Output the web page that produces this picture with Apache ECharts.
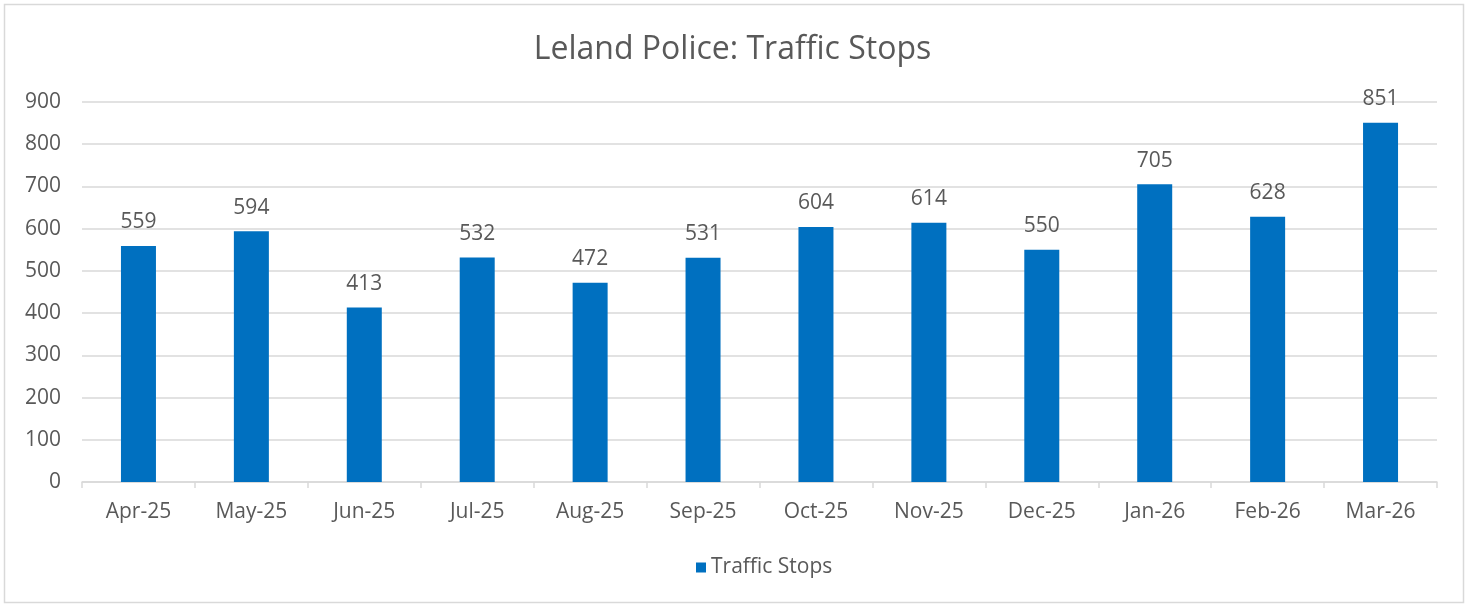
<!DOCTYPE html>
<html>
<head>
<meta charset="utf-8">
<script src="https://cdn.jsdelivr.net/npm/echarts@6/dist/echarts.min.js"></script>
<style>
  html, body { margin: 0; padding: 0; background: #fff; }
  #chart { width: 1465px; height: 605px; }
</style>
</head>
<body>
<div id="chart"></div>
<script>
var months = ["Apr-25", "May-25", "Jun-25", "Jul-25", "Aug-25", "Sep-25",
  "Oct-25", "Nov-25", "Dec-25", "Jan-26", "Feb-26", "Mar-26"];
var stops = [559, 594, 413, 532, 472, 531, 604, 614, 550, 705, 628, 851];
var yTicks = [0, 900, 100];

var textColor = "#595959";
var font = "'Open Sans', 'Liberation Sans', sans-serif";

var chart = echarts.init(document.getElementById("chart"));

var option = {
  backgroundColor: "#fff",
  textStyle: { fontFamily: font },
  title: {
    text: "Leland Police: Traffic Stops",
    left: "center",
    top: 29,
    textStyle: { fontSize: 32, fontWeight: "normal", color: textColor, fontFamily: font }
  },
  graphic: [{
    type: "rect",
    shape: { x: 4.5, y: 4.5, width: 1459, height: 598 },
    style: { fill: "none", stroke: "#d9d9d9", lineWidth: 1.5 },
    silent: true
  }],
  legend: {
    data: ["Traffic Stops"],
    left: 691,
    top: 552,
    itemWidth: 10,
    itemHeight: 10,
    icon: "rect",
    itemGap: 10,
    textStyle: { fontSize: 21, color: textColor, fontFamily: font }
  },
  grid: { left: 82, right: 28, top: 102, bottom: 123 },
  xAxis: {
    type: "category",
    data: months,
    axisLine: { lineStyle: { color: "#d9d9d9", width: 1.5 } },
    axisTick: { show: true, alignWithLabel: false, length: 6, lineStyle: { color: "#d9d9d9", width: 1.5 } },
    axisLabel: { fontSize: 21, color: textColor, margin: 20, fontFamily: font }
  },
  yAxis: {
    type: "value",
    min: yTicks[0],
    max: yTicks[1],
    interval: yTicks[2],
    axisLine: { show: false },
    axisTick: { show: false },
    axisLabel: { fontSize: 21, color: textColor, margin: 21, fontFamily: font },
    splitLine: { lineStyle: { color: "#d9d9d9", width: 1.5 } }
  },
  series: [{
    name: "Traffic Stops",
    type: "bar",
    data: stops,
    barWidth: 35,
    itemStyle: { color: "#0070C0" },
    label: {
      show: true,
      position: "top",
      distance: 13,
      fontSize: 21,
      color: textColor,
      fontFamily: font
    }
  }]
};

chart.setOption(option);
</script>
</body>
</html>
